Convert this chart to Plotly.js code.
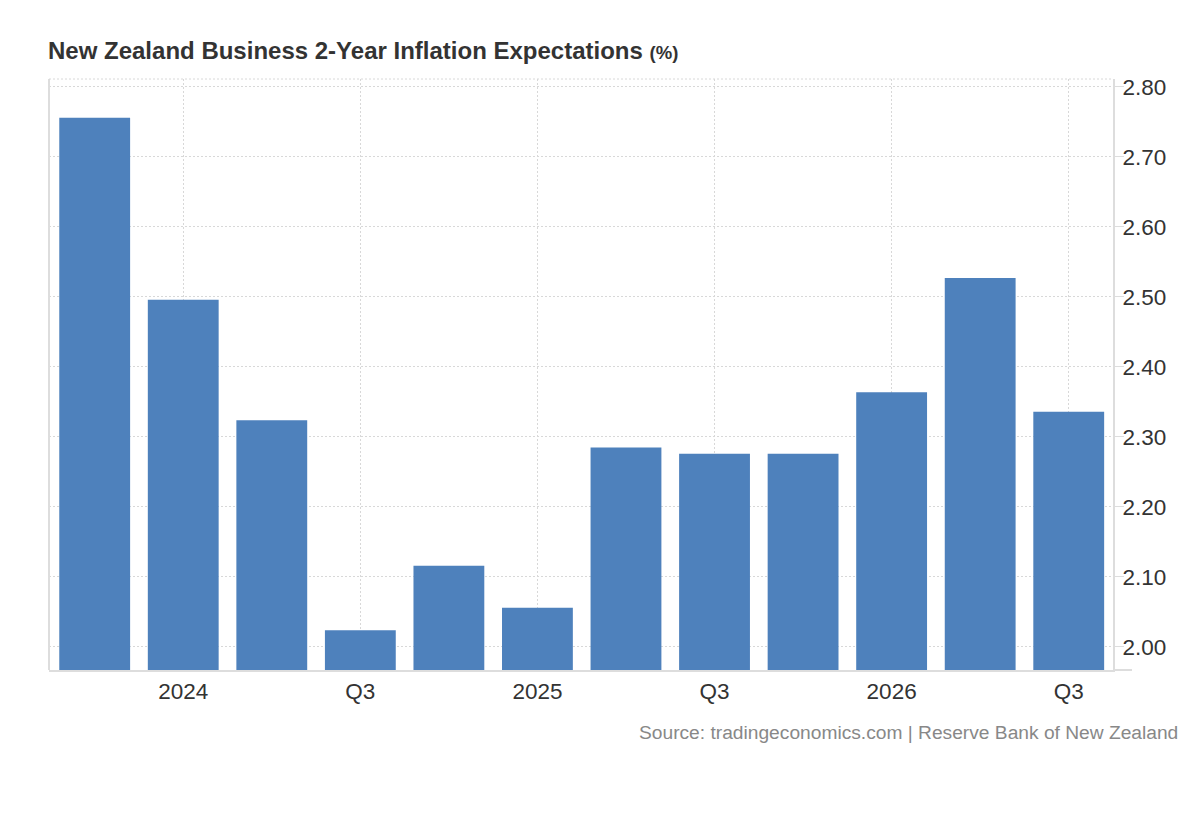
<!DOCTYPE html>
<html>
<head>
<meta charset="utf-8">
<script src="https://cdn.plot.ly/plotly-3.0.1.min.js"></script>
<style>
html,body{margin:0;padding:0;background:#fff;}
#chart{width:1200px;height:820px;}
</style>
</head>
<body>
<div id="chart"></div>
<script>
// Data
const quarters = ["2023 Q4","2024 Q1","2024 Q2","2024 Q3","2024 Q4","2025 Q1","2025 Q2","2025 Q3","2025 Q4","2026 Q1","2026 Q2","2026 Q3"];
const values = [2.756, 2.496, 2.324, 2.024, 2.116, 2.056, 2.285, 2.276, 2.276, 2.364, 2.527, 2.336];
const tickQuarters = ["2024 Q1","2024 Q3","2025 Q1","2025 Q3","2026 Q1","2026 Q3"];
const tickLabels = ["2024","Q3","2025","Q3","2026","Q3"];
const yTicks = [2.0,2.1,2.2,2.3,2.4,2.5,2.6,2.7,2.8];
const yTickLabels = ["2.00","2.10","2.20","2.30","2.40","2.50","2.60","2.70","2.80"];

const L = 49, R = 1113, T = 79, B = 670;

const trace = {
  type: 'bar',
  x: quarters,
  y: values,
  marker: {color: '#4e81bc'},
  hoverinfo: 'x+y'
};

const layout = {
  width: 1200, height: 820,
  paper_bgcolor: '#fff', plot_bgcolor: '#fff',
  margin: {l: L, r: 1200 - R, t: T, b: 820 - B},
  bargap: 0.2,
  showlegend: false,
  font: {family: 'Liberation Sans, Arial, sans-serif', color: '#333'},
  title: {
    text: '<b>New Zealand Business 2-Year Inflation Expectations</b> <b><span style="font-size:18.5px">(%)</span></b>',
    font: {size: 24, color: '#333', family: 'Liberation Sans, Arial, sans-serif'},
    x: 48 / 1200, xref: 'container', xanchor: 'left',
    y: 1 - 51/820, yref: 'container', yanchor: 'middle'
  },
  xaxis: {
    type: 'category',
    range: [-0.516, 11.5],
    tickmode: 'array',
    tickvals: tickQuarters,
    ticktext: tickLabels,
    showgrid: true,
    gridcolor: '#d8d8d8',
    griddash: '2px,2px',
    gridwidth: 1,
    ticks: '',
    tickfont: {size: 22.5, color: '#333'},
    showline: true, linecolor: '#dddddd', linewidth: 2,
    mirror: false,
    zeroline: false,
    fixedrange: true
  },
  yaxis: {
    side: 'right',
    range: [1.9671, 2.8114],
    tickmode: 'array',
    tickvals: yTicks,
    ticktext: yTickLabels,
    showgrid: true,
    gridcolor: '#d8d8d8',
    griddash: '2px,2px',
    gridwidth: 1,
    ticks: 'outside', ticklen: 9, tickcolor: '#dddddd', tickwidth: 1,
    ticklabelstandoff: -6,
    tickfont: {size: 22.5, color: '#333'},
    showline: true, linecolor: '#dddddd', linewidth: 2,
    zeroline: false,
    fixedrange: true
  },
  shapes: [
    {type: 'line', xref: 'paper', yref: 'paper', x0: 0, x1: 0, y0: 0, y1: 1,
     line: {color: '#dddddd', width: 2}},
    {type: 'line', xref: 'paper', yref: 'paper', x0: 0, x1: 1, y0: 1, y1: 1,
     line: {color: '#d8d8d8', width: 1, dash: '2px,2px'}},
    {type: 'line', xref: 'paper', yref: 'paper', x0: 1, x1: (1132 - L) / (R - L), y0: 0, y1: 0,
     line: {color: '#dddddd', width: 2}}
  ],
  annotations: [
    {text: 'Source: tradingeconomics.com | Reserve Bank of New Zealand',
     xref: 'paper', yref: 'paper',
     x: (1180 - L) / (R - L), y: -(732 - B) / (B - T),
     xanchor: 'right', yanchor: 'middle', showarrow: false,
     font: {size: 19.2, color: '#888'}}
  ]
};

Plotly.newPlot('chart', [trace], layout, {displayModeBar: false, staticPlot: true});
</script>
</body>
</html>
